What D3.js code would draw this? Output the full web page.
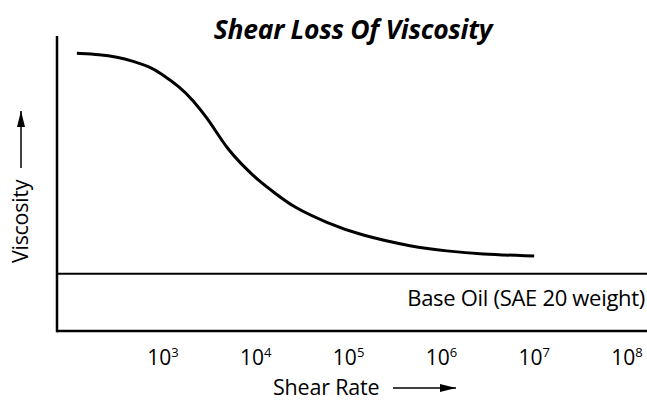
<!DOCTYPE html>
<html>
<head>
<meta charset="utf-8">
<script src="https://cdn.jsdelivr.net/npm/d3@7"></script>
<style>
  html, body { margin: 0; padding: 0; background: #fff; }
  svg { display: block; }
  text { font-family: "Open Sans", "Noto Sans", sans-serif; fill: #000; }
</style>
</head>
<body>
<svg id="chart" width="647" height="400"></svg>
<script>
// ---- data ----
const title = "Shear Loss Of Viscosity";
const xLabel = "Shear Rate";
const yLabel = "Viscosity";
const baseLabel = "Base Oil (SAE 20 weight)";
const tickExponents = [3, 4, 5, 6, 7, 8];
const shearRate = [118, 210, 319, 475, 724, 929, 1525, 2105, 2978, 3818, 4894, 6761,
                   11100, 16900, 25200, 58500, 132700, 494000, 1148000, 2606000, 10000000];
const viscosity = [93.8, 93.4, 92.6, 91.2, 89.2, 87.2, 82.4, 78.0, 72.0, 66.9, 61.8, 56.8,
                   50.3, 46.1, 41.9, 36.5, 32.4, 28.4, 27.0, 26.0, 25.3];
const baseOilViscosity = 19.3;

// ---- layout ----
const svg = d3.select("#chart");
const axisX = 57, axisY = 331, axisTop = 36, rightEdge = 647;

const x = d3.scaleLog().domain([1e3, 1e8]).range([163, 627]);
const y = d3.scaleLinear().domain([0, 100]).range([axisY, 35]);

// arrow marker
svg.append("defs").append("marker")
  .attr("id", "arrow")
  .attr("viewBox", "0 0 10 10")
  .attr("refX", 10).attr("refY", 5)
  .attr("markerWidth", 16).attr("markerHeight", 8)
  .attr("markerUnits", "userSpaceOnUse")
  .attr("orient", "auto")
  .attr("preserveAspectRatio", "none")
  .append("path").attr("d", "M0,0 L10,5 L0,10 Z").attr("fill", "#000");

// title
svg.append("text")
  .attr("x", 353).attr("y", 39)
  .attr("text-anchor", "middle")
  .style("font-size", "26.5px").style("font-weight", "bold").style("font-style", "italic")
  .style("letter-spacing", "-0.3px")
  .text(title);

// axes lines
svg.append("line")
  .attr("x1", axisX).attr("x2", axisX).attr("y1", axisTop).attr("y2", axisY + 1.25)
  .attr("stroke", "#000").attr("stroke-width", 2.5);
svg.append("line")
  .attr("x1", axisX).attr("x2", rightEdge).attr("y1", axisY).attr("y2", axisY)
  .attr("stroke", "#000").attr("stroke-width", 2.5);

// base oil line
svg.append("line")
  .attr("x1", axisX).attr("x2", rightEdge)
  .attr("y1", y(baseOilViscosity)).attr("y2", y(baseOilViscosity))
  .attr("stroke", "#000").attr("stroke-width", 2);
svg.append("text")
  .attr("x", 645).attr("y", y(baseOilViscosity) + 32)
  .attr("text-anchor", "end")
  .style("font-size", "22px")
  .style("letter-spacing", "-0.3px")
  .text(baseLabel);

// curve
const pts = shearRate.map((s, i) => [s, viscosity[i]]);
svg.append("path")
  .datum(pts)
  .attr("fill", "none").attr("stroke", "#000").attr("stroke-width", 3)
  .attr("d", d3.line().x(d => x(d[0])).y(d => y(d[1])).curve(d3.curveBasis));

// tick labels
const ticks = svg.append("g");
tickExponents.forEach(e => {
  const t = ticks.append("text")
    .attr("x", x(Math.pow(10, e))).attr("y", 365)
    .attr("text-anchor", "middle")
    .style("font-size", "21px");
  t.append("tspan").text("10");
  t.append("tspan").attr("dy", -8).style("font-size", "13px").text(e);
});

// x label with arrow
svg.append("text")
  .attr("x", 273).attr("y", 395)
  .style("font-size", "21.5px")
  .style("letter-spacing", "-0.2px")
  .text(xLabel);
svg.append("line")
  .attr("x1", 393).attr("x2", 456).attr("y1", 388).attr("y2", 388)
  .attr("stroke", "#000").attr("stroke-width", 1.5)
  .attr("marker-end", "url(#arrow)");

// y label with arrow
svg.append("text")
  .attr("transform", "translate(28,263) rotate(-90)")
  .attr("text-anchor", "start")
  .style("font-size", "21.5px")
  .style("letter-spacing", "-0.3px")
  .text(yLabel);
svg.append("line")
  .attr("x1", 21).attr("x2", 21).attr("y1", 168).attr("y2", 111)
  .attr("stroke", "#000").attr("stroke-width", 1.5)
  .attr("marker-end", "url(#arrow)");
</script>
</body>
</html>
